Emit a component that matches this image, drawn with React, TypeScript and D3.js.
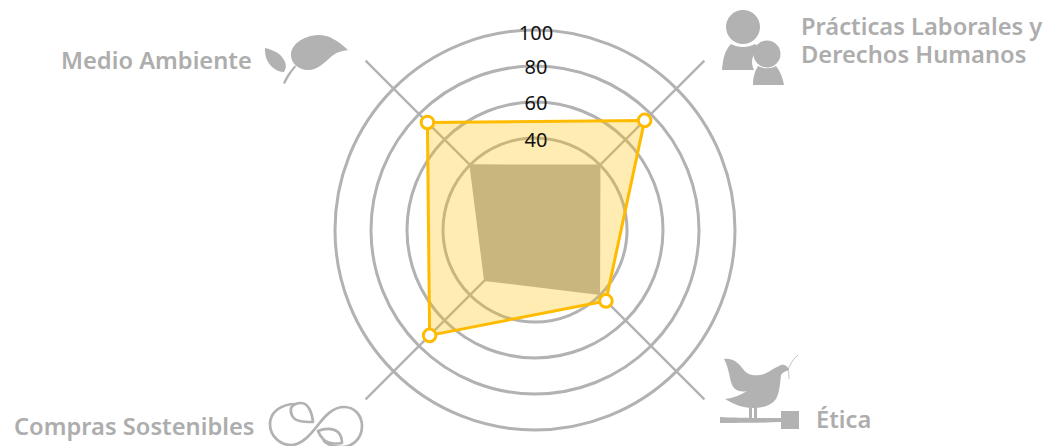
import React from "react";
import * as d3 from "d3";

const axes = ["Prácticas Laborales", "Ética", "Compras Sostenibles", "Medio Ambiente"];
const outerValues = [75, 44.6, 71.7, 73.4];
const innerValues = [40.3, 40, 28.9, 40.5];
const ringTicks = [40, 60, 80, 100];
const tickBaselineOffsets = [9, 8, 8, 10];
const axisMax = 122;

const W = 1050, H = 446, cx = 535, cy = 230;
const GRAY = "#b2b2b2";
const TXT = "#adadad";
const FONT = "'Noto Sans', sans-serif";

const r = d3.scaleLinear().domain([0, 100]).range([20, 200]);
const angles = d3.scalePoint<string>().domain(axes).range([Math.PI / 4, (7 * Math.PI) / 4]);
const line = d3.lineRadial<number>()
  .angle((_, i) => angles(axes[i])!)
  .radius((d) => r(d))
  .curve(d3.curveLinearClosed);
const pos = (v: number, i: number) => {
  const a = angles(axes[i])!;
  return [Math.sin(a) * r(v), -Math.cos(a) * r(v)];
};

export default function App() {
  return (
    <svg width={W} height={H} style={{ position: "absolute", left: 0, top: 0, background: "#fff" }}>
      <g transform={`translate(${cx},${cy})`}>
        {ringTicks.map((t) => (
          <circle key={t} r={r(t)} fill="none" stroke={GRAY} strokeWidth={3} />
        ))}
        {axes.map((a, i) => {
          const [x, y] = pos(axisMax, i);
          return <line key={a} x1={0} y1={0} x2={x} y2={y} stroke={GRAY} strokeWidth={2.4} />;
        })}
        <path d={line(outerValues)!} fill="#ffc000" fillOpacity={0.3} stroke="none" />
        <path d={line(innerValues)!} fill="#c8b67e" />
        <path d={line(outerValues)!} fill="none" stroke="#ffbb00" strokeWidth={3} strokeLinejoin="round" />
        {outerValues.map((v, i) => {
          const [x, y] = pos(v, i);
          return <circle key={i} cx={x} cy={y} r={6.3} fill="#fff" stroke="#ffbb00" strokeWidth={3} />;
        })}
        {ringTicks.map((t, i) => (
          <text key={t} x={1} y={-r(t) + tickBaselineOffsets[i]} textAnchor="middle" fontFamily={FONT} fontSize={20} fill="#111">{t}</text>
        ))}
      </g>

      <g fontFamily={FONT} fontWeight={600} fontSize={23.7} fill={TXT}>
        <text x={61} y={69}>Medio Ambiente</text>
        <text x={801} y={35}>Prácticas Laborales y</text>
        <text x={801} y={63}>Derechos Humanos</text>
        <text x={816} y={428}>Ética</text>
        <text x={14} y={435}>Compras Sostenibles</text>
      </g>

      {/* Leaf icon */}
      <g fill={GRAY}>
        <path d="M348 50 C338 41 330 35 318 35 C302 36 291 45 291 55 C291 63 298 70 308 70 C318 70 325 62 332 56 C337 52 342 51 348 50Z" />
        <path d="M265 48 C274 50 282 54 285 62 C287 67 285 70 284 72 C276 72 270 66 267 60 C265 56 265 52 265 48Z" />
        <path d="M283 83 C286 76 289 72 295 65 L296 67 C291 73 288 78 285 84Z" />
      </g>

      {/* People icon */}
      <g fill={GRAY}>
        <circle cx={743} cy={27} r={17} />
        <path d="M722 70 C723 58 725 50 731 44 C738 48 748 48 755 44 C757 46 759 47 760 48 C752 54 750 62 754 70Z" />
        <circle cx={767} cy={54} r={13.5} />
        <path d="M753 85 C753 77 755 71 758 66 C763 69 771 69 776 66 C780 71 783 78 784 85Z" />
      </g>

      {/* Bird icon */}
      <g fill={GRAY}>
        <path d="M724 359 C732 358 738 362 743 369 C747 375 754 376 760 375 C768 374 773 368 781 365 C785 364 788 367 789 370 C786 371 783 372 781 375 C780 382 780 392 776 399 C771 406 762 408 752 408 C743 408 733 404 725 399 C733 398 741 395 747 391 C738 393 733 389 731 382 C729 374 728 366 724 359Z" />
        <path d="M749 408 H752 V418 H749Z M754 408 H757 V418 H754Z" />
        <path d="M720 417 C735 418 760 418 781 418 V411 H799 V429 H781 V422 C760 423 735 423 720 423Z" />
        <path d="M788 370 C790 364 794 358 798 355 M788 370 C789 374 789 376 789 379" fill="none" stroke={GRAY} strokeWidth={0.8} />
      </g>

      {/* Infinity with leaves icon */}
      <g fill="none" stroke={GRAY} strokeWidth={2.7} strokeLinecap="round" strokeLinejoin="round">
        <path d="M296 404 C281 404 270 412 270 424 C270 436 280 445 291 445 C302 445 311 434 318 425 C325 416 333 407 344 407 C355 407 362 416 362 426 C362 438 353 447 342 447 C336 447 329 446 324 441" />
        <path d="M313 422 C312 412 308 403 301 403 C297 403 293 405 291 408 C290 414 293 420 300 421 C304 422 309 422 313 422Z" />
        <path d="M318 431 C325 428 333 428 338 432 C341 435 342 439 342 443 C335 444 328 444 324 440 C321 437 319 434 318 431Z" />
      </g>
    </svg>
  );
}
